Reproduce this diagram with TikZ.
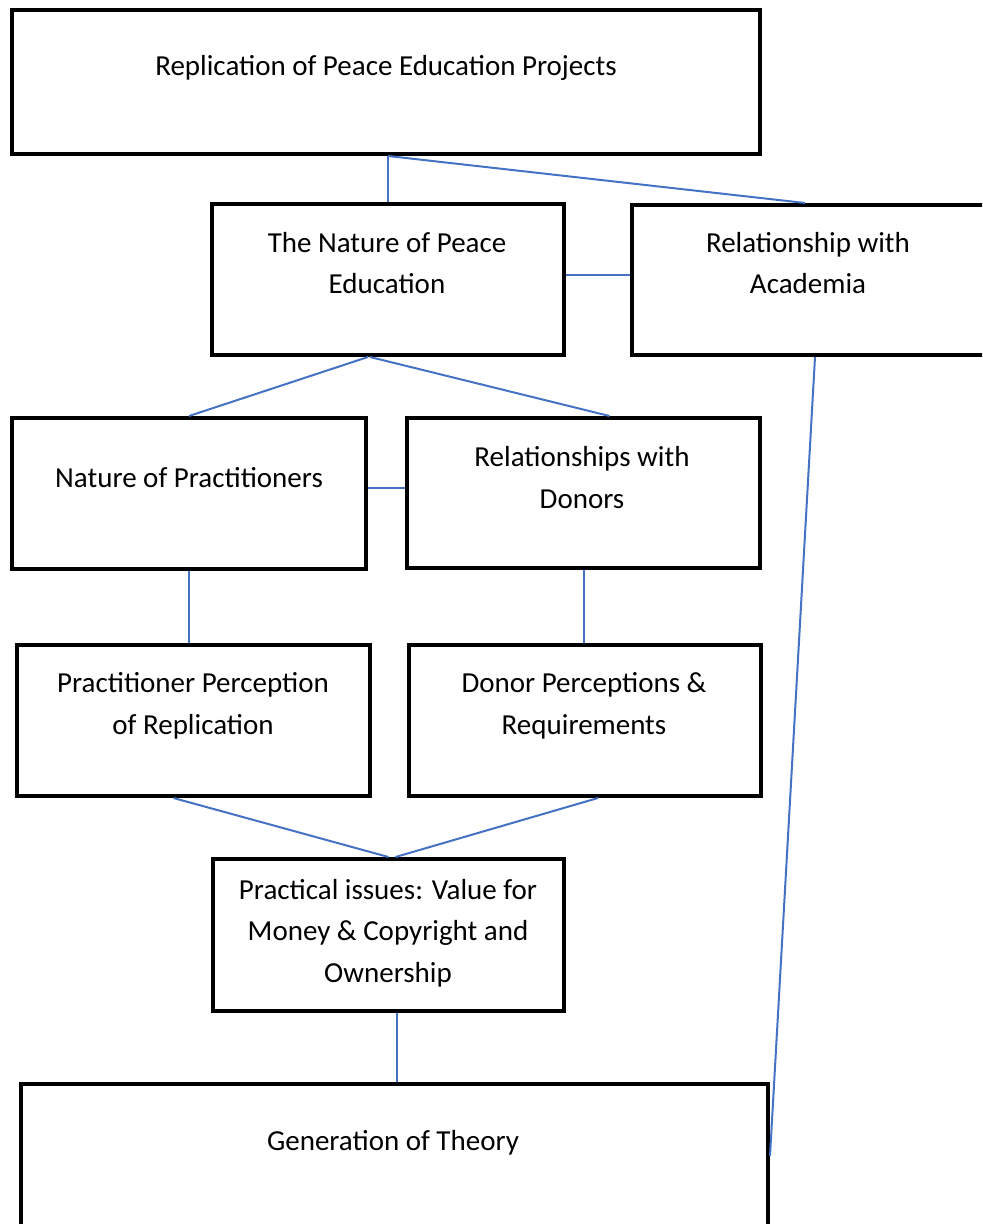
\documentclass[tikz,border=0pt]{standalone}
\usepackage{fontspec}
\setmainfont{Carlito}
\definecolor{linkblue}{HTML}{4472C4}

\begin{document}
\begin{tikzpicture}
      [x=.5pt,y=-.5pt
      ,box/.style={draw=black,line width=2pt,inner sep=0pt}
      ,txt/.style={anchor=base,align=center,inner sep=0pt,font=\fontsize{14.5pt}{20.75pt}\selectfont}
      ,lin/.style={color=linkblue,line width=1pt}
      ]
        \useasboundingbox (0,0) rectangle (982,1224);
        \clip (0,0) rectangle (982,1224);
        % boxes
        \node[box,minimum width=374pt,minimum height=72pt] (repl) at (386,82) {};
        \node[box,minimum width=176pt,minimum height=75.5pt] (nature) at (388,279.5) {};
        \node[box,minimum width=177pt,minimum height=75pt] (academia) at (809,280) {};
        \node[box,minimum width=177pt,minimum height=75.5pt] (practs) at (189,493.5) {};
        \node[box,minimum width=176.5pt,minimum height=75pt] (donors) at (583.5,493) {};
        \node[box,minimum width=176.5pt,minimum height=75.5pt] (practperc) at (193.5,720.5) {};
        \node[box,minimum width=176pt,minimum height=75.5pt] (donorperc) at (585,720.5) {};
        \node[box,minimum width=175.5pt,minimum height=76pt] (issues) at (388.5,935) {};
        \node[box,minimum width=373.5pt,minimum height=72pt] (theory) at (394.5,1156) {};
        % texts (base = last line)
        \node[txt] (repl-t) at (386,76) {Replication of Peace Education Projects};
        \node[txt] (nature-t) at (387,294) {The Nature of Peace\\Education};
        \node[txt] (academia-t) at (808,294) {Relationship with\\Academia};
        \node[txt] (practs-t) at (189,487) {Nature of Practitioners};
        \node[txt] (donors-t) at (582,508) {Relationships with\\Donors};
        \node[txt] (practperc-t) at (193,734) {Practitioner Perception\\of Replication};
        \node[txt] (donorperc-t) at (584,734) {Donor Perceptions \&\\Requirements};
        \node[txt] (issues-t) at (388,982) {Practical issues: Value for\\Money \& Copyright and\\Ownership};
        \node[txt] (theory-t) at (393,1150) {Generation of Theory};
        % connectors
        \coordinate (split) at (nature.north |- repl.south);
        \draw[lin] (split) -- (nature.north);
        \draw[lin] (split) -- ([xshift=-2pt]academia.north);
        \draw[lin] ([yshift=2pt]nature.east) -- ([yshift=2pt]nature.east -| academia.west);
        \draw[lin] ([xshift=-10pt]nature.south) -- (practs.north);
        \draw[lin] ([xshift=-9pt]nature.south) -- ([xshift=13pt]donors.north);
        \draw[lin] ([yshift=3pt]practs.east) -- ([yshift=3pt]practs.east -| donors.west);
        \draw[lin] (practs.south) -- (practs.south |- practperc.north);
        \draw[lin] (donors.south) -- (donors.south |- donorperc.north);
        \draw[lin] ([xshift=-10pt]practperc.south) -- (issues.north);
        \draw[lin] ([xshift=6.5pt]donorperc.south) -- ([xshift=3.5pt]issues.north);
        \draw[lin] ([xshift=4pt]issues.south) -- ([xshift=4pt]issues.south |- theory.north);
        \draw[lin] ([xshift=3pt]academia.south) -- (theory.east);
\end{tikzpicture}
\end{document}
